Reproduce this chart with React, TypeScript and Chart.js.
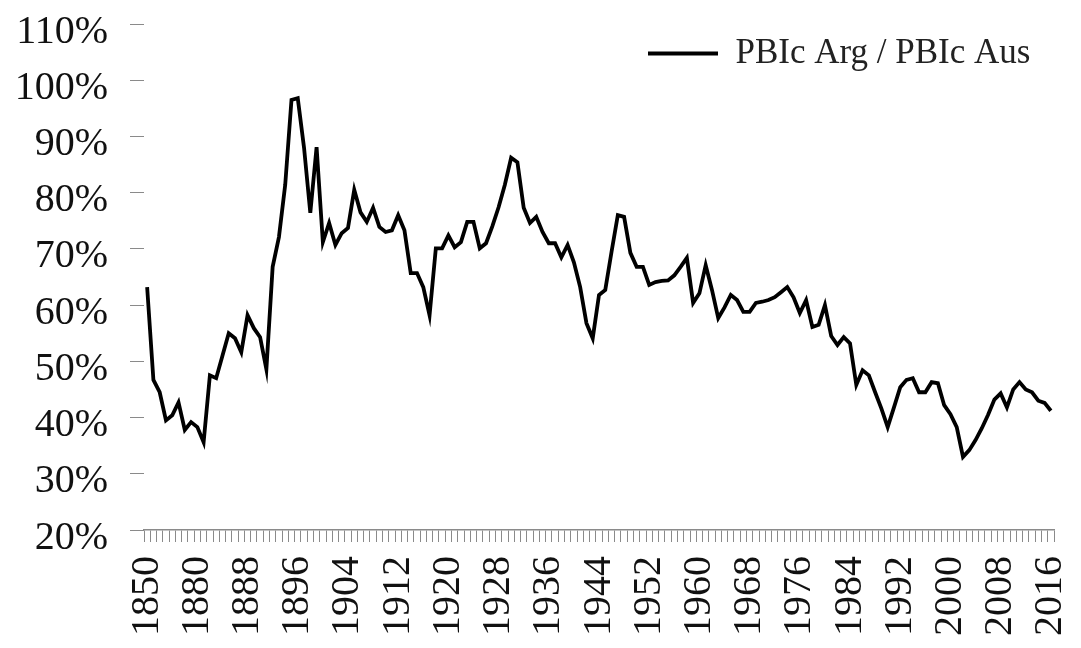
import { useEffect, useRef } from 'react';
import { Chart, registerables } from 'chart.js';

Chart.register(...registerables);

const FONT = "'Liberation Serif', 'Times New Roman', Times, serif";

// Category labels: 1850, then annual 1873–2016
const categories: string[] = ['1850'];
for (let y = 1873; y <= 2016; y++) categories.push(String(y));

const seriesLabel = 'PBIc Arg / PBIc Aus';

// Ratio (%) of Argentina's GDP per capita to Australia's
const ratioValues: number[] = [
  63.2, 46.7, 44.5, 39.5, 40.4, 42.7, 37.8, 39.2, 38.3, 35.6,
  47.5, 47.0, 51.0, 55.0, 54.1, 51.6, 58.2, 55.9, 54.3, 48.6,
  66.8, 72.1, 81.4, 96.5, 96.8, 88.0, 76.4, 88.1, 71.2, 74.6,
  70.7, 72.8, 73.7, 80.5, 76.5, 74.8, 77.3, 73.9, 73.0, 73.3,
  76.0, 73.3, 65.7, 65.7, 63.2, 58.2, 70.1, 70.1, 72.4, 70.3,
  71.2, 74.8, 74.8, 70.1, 71.0, 74.0, 77.4, 81.4, 86.2, 85.4,
  77.3, 74.6, 75.7, 73.0, 71.0, 71.0, 68.5, 70.7, 67.6, 63.2,
  56.8, 54.1, 61.8, 62.7, 69.5, 76.0, 75.7, 69.3, 66.8, 66.8,
  63.6, 64.1, 64.3, 64.4, 65.3, 66.8, 68.4, 60.4, 62.1, 67.1,
  62.7, 57.7, 59.6, 61.8, 60.9, 58.8, 58.8, 60.4, 60.6, 60.9,
  61.4, 62.3, 63.2, 61.4, 58.6, 60.9, 56.1, 56.5, 60.0, 54.5,
  52.9, 54.3, 53.2, 45.8, 48.4, 47.5, 44.5, 41.6, 38.3, 41.8,
  45.4, 46.7, 47.0, 44.5, 44.5, 46.3, 46.1, 42.2, 40.6, 38.3,
  33.0, 34.2, 36.0, 38.1, 40.5, 43.2, 44.3, 41.8, 45.0, 46.3,
  45.0, 44.5, 43.0, 42.6, 41.2,
];

const yMin = 20;
const yMax = 110;
const yStep = 10;
const labelEvery = 8;

// Places the in-plot legend at the top-right, as in the reference
const legendPlacer = {
  id: 'legendPlacer',
  afterLayout(chart: any) {
    const lg = chart.legend;
    if (!lg) return;
    const w = lg.width;
    const h = lg.height;
    lg.left = 638;
    lg.right = 638 + w;
    lg.top = 26;
    lg.bottom = 26 + h;
  },
};

export default function App() {
  const ref = useRef<HTMLCanvasElement>(null);

  useEffect(() => {
    document.body.style.margin = '0';
    if (!ref.current) return;
    const chart = new Chart(ref.current, {
      type: 'line',
      data: {
        labels: categories,
        datasets: [
          {
            label: seriesLabel,
            data: ratioValues,
            borderColor: '#000',
            backgroundColor: '#000',
            borderWidth: 3.8,
            pointRadius: 0,
            tension: 0,
          },
        ],
      },
      options: {
        animation: false,
        responsive: true,
        maintainAspectRatio: false,
        layout: { padding: { top: 24, right: 27, left: 0, bottom: 0 } },
        scales: {
          x: {
            type: 'category',
            offset: true,
            grid: {
              offset: true,
              drawOnChartArea: false,
              drawTicks: true,
              tickLength: 12,
              color: '#8a8a8a',
              lineWidth: 1,
            },
            border: { display: true, color: '#8a8a8a', width: 1.5 },
            ticks: {
              autoSkip: false,
              maxRotation: 90,
              minRotation: 90,
              padding: 14,
              color: '#111',
              font: { family: FONT, size: 40 },
              callback: (_v: any, i: number) => (i % labelEvery === 0 ? categories[i] : ''),
            },
            afterFit: (s: any) => {
              s.height = 118;
              s.paddingLeft = 0;
              s.paddingRight = 0;
            },
          },
          y: {
            min: yMin,
            max: yMax,
            grid: {
              drawOnChartArea: false,
              drawTicks: true,
              tickLength: 14,
              color: '#8a8a8a',
            },
            border: { display: false },
            ticks: {
              stepSize: yStep,
              padding: 22,
              labelOffset: 8,
              color: '#111',
              font: { family: FONT, size: 40 },
              callback: (v: any) => `${v}%`,
            },
            afterFit: (s: any) => {
              s.width = 144;
              s.paddingTop = 0;
              s.paddingBottom = 0;
            },
          },
        },
        plugins: {
          legend: {
            position: 'chartArea',
            align: 'start',
            labels: {
              usePointStyle: true,
              pointStyle: 'line',
              pointStyleWidth: 70,
              color: '#222',
              padding: 10,
              font: { family: FONT, size: 35 },
            },
          },
          tooltip: { enabled: false },
        },
      },
      plugins: [legendPlacer],
    } as any);
    return () => chart.destroy();
  }, []);

  return (
    <div style={{ width: 1081, height: 648, position: 'relative' }}>
      <canvas ref={ref} />
    </div>
  );
}
